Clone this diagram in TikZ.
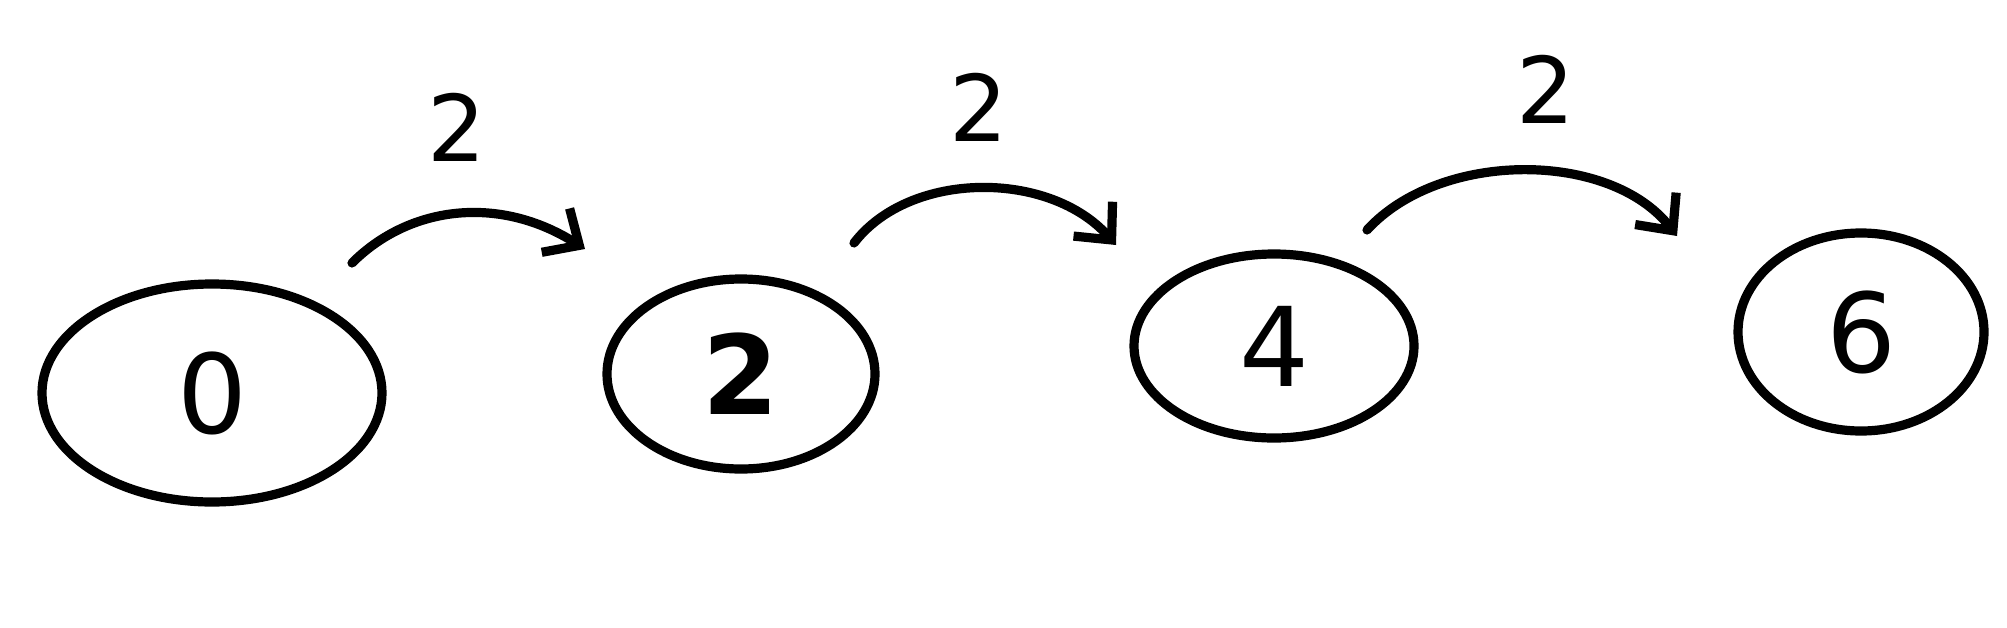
\documentclass[tikz,border=0pt]{standalone}
\usepackage{fontspec}
\setmainfont{DejaVu Sans}
\usetikzlibrary{shapes.geometric,arrows.meta}
\begin{document}
\begin{tikzpicture}[x=0.5pt,y=-0.5pt,
  state/.style={draw,ellipse,line width=4.6pt,inner sep=0pt,font=\fontsize{55}{60}\selectfont},
  hop/.style={line width=4.6pt,line cap=round,-{Straight Barb[length=14pt,width=26pt,line width=4.6pt]}},
  lab/.style={font=\fontsize{46}{50}\selectfont}]
\useasboundingbox (0,0) rectangle (2007,627);
\node[state,minimum width=340pt*0.5,minimum height=218pt*0.5] (n0) at (212,393) {0};
\node[state,minimum width=268pt*0.5,minimum height=190pt*0.5] (n2) at (741,374) {\bfseries 2};
\node[state,minimum width=280pt*0.5,minimum height=184pt*0.5] (n4) at (1274,346) {4};
\node[state,minimum width=246pt*0.5,minimum height=198pt*0.5] (n6) at (1861,332) {6};
\coordinate (s1) at (352,263); \coordinate (e1) at (585,249);
\coordinate (s2) at (854,243); \coordinate (e2) at (1116,245);
\coordinate (s3) at (1367,230); \coordinate (e3) at (1677,236);
\draw[hop] (s1) .. controls (410,205) and (500,195) .. (e1);
\draw[hop] (s2) .. controls (910,170) and (1050,170) .. (e2);
\draw[hop] (s3) .. controls (1440,150) and (1610,150) .. (e3);
\node[lab] (l1) at (457,127) {2};
\node[lab] (l2) at (979,107) {2};
\node[lab] (l3) at (1546,89) {2};
\end{tikzpicture}
\end{document}
